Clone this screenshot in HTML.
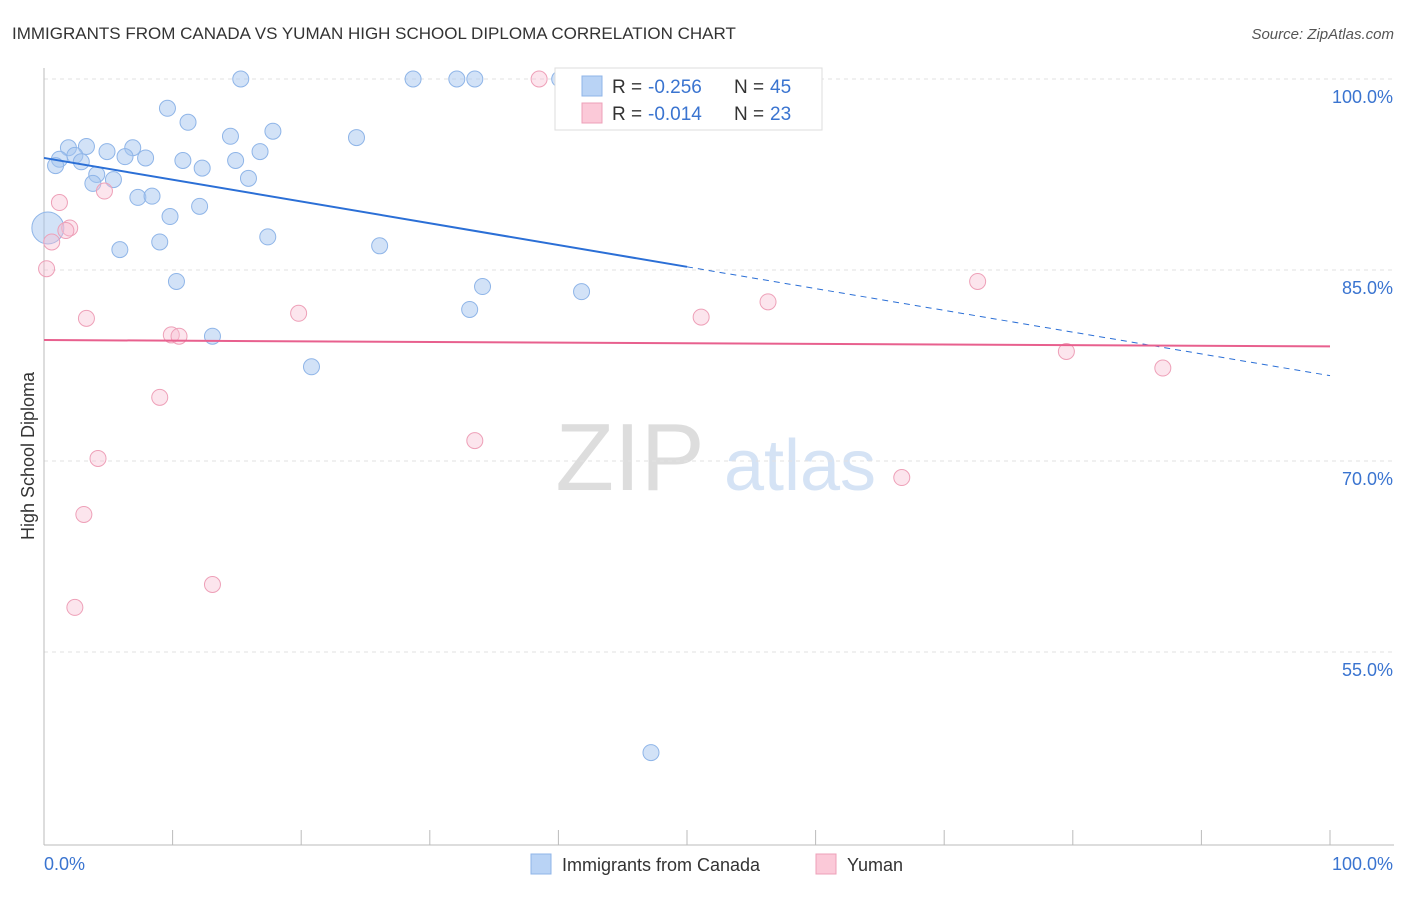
<!DOCTYPE html>
<html><head><meta charset="utf-8"><style>
body{margin:0;background:#fff;font-family:"Liberation Sans",sans-serif;}
svg text{font-family:"Liberation Sans",sans-serif;}
</style></head><body>
<svg id="chart" width="1406" height="892">
<text x="12" y="39" font-size="17" fill="#333">IMMIGRANTS FROM CANADA VS YUMAN HIGH SCHOOL DIPLOMA CORRELATION CHART</text>
<text x="1394" y="39" font-size="15" fill="#555" font-style="italic" text-anchor="end">Source: ZipAtlas.com</text>
<text x="630" y="490" font-size="96" fill="#ddd" font-family="Liberation Serif" text-anchor="middle">ZIP</text>
<text x="800" y="490" font-size="72" fill="#d5e3f5" text-anchor="middle">atlas</text>
<text transform="translate(34,456) rotate(-90)" font-size="18" fill="#333" text-anchor="middle">High School Diploma</text>
<g id="grid"></g><g id="marks"></g>
<g>
<rect x="555" y="68" width="267" height="62" fill="#fff" stroke="#ddd"/>
<rect x="582" y="76" width="20" height="20" fill="#b9d3f5" stroke="#8fb5e8"/>
<rect x="582" y="103" width="20" height="20" fill="#fbc9d8" stroke="#eea0b8"/>
<text x="612" y="93" font-size="19" fill="#333">R =</text>
<text x="648" y="93" font-size="19" fill="#3a74d0">-0.256</text>
<text x="734" y="93" font-size="19" fill="#333">N =</text>
<text x="770" y="93" font-size="19" fill="#3a74d0">45</text>
<text x="612" y="120" font-size="19" fill="#333">R =</text>
<text x="648" y="120" font-size="19" fill="#3a74d0">-0.014</text>
<text x="734" y="120" font-size="19" fill="#333">N =</text>
<text x="770" y="120" font-size="19" fill="#3a74d0">23</text>
</g>
<g>
<rect x="531" y="854" width="20" height="20" fill="#b9d3f5" stroke="#8fb5e8"/>
<text x="562" y="871" font-size="18" fill="#333">Immigrants from Canada</text>
<rect x="816" y="854" width="20" height="20" fill="#fbc9d8" stroke="#eea0b8"/>
<text x="847" y="871" font-size="18" fill="#333">Yuman</text>
</g>
</svg>
<script>
const blueX=[15.3,28.7,32.1,33.5,40.1,50.0,9.6,11.2,17.8,14.5,24.3,1.9,3.3,6.9,4.9,16.8,2.4,6.3,7.9,10.8,14.9,1.2,0.9,2.9,12.3,4.1,5.4,15.9,3.8,7.3,8.4,12.1,9.8,0.3,17.4,9.0,26.1,5.9,10.3,34.1,41.8,33.1,13.1,20.8,47.2];
const blueY=[100,100,100,100,100,100,97.7,96.6,95.9,95.5,95.4,94.6,94.7,94.6,94.3,94.3,94.0,93.9,93.8,93.6,93.6,93.7,93.2,93.5,93.0,92.5,92.1,92.2,91.8,90.7,90.8,90.0,89.2,88.3,87.6,87.2,86.9,86.6,84.1,83.7,83.3,81.9,79.8,77.4,47.1];
const pinkX=[38.5,1.2,4.7,2.0,1.7,0.6,0.2,72.6,56.3,19.8,3.3,51.1,9.9,10.5,79.5,87.0,9.0,33.5,4.2,66.7,3.1,13.1,2.4];
const pinkY=[100,90.3,91.2,88.3,88.1,87.2,85.1,84.1,82.5,81.6,81.2,81.3,79.9,79.8,78.6,77.3,75.0,71.6,70.2,68.7,65.8,60.3,58.5];
const blueTrend=[93.8,76.7];
const pinkTrend=[79.5,79.0];
const yTicks=[100,85,70,55];
const xTickVals=[0,10,20,30,40,50,60,70,80,90,100];
const X=v=>44+v*12.86, Y=v=>79+(100-v)*12.733;
const NS="http://www.w3.org/2000/svg";
function mk(tag,attrs,parent){const e=document.createElementNS(NS,tag);for(const k in attrs)e.setAttribute(k,attrs[k]);parent.appendChild(e);return e;}
const grid=document.getElementById('grid'),marks=document.getElementById('marks');
yTicks.forEach(t=>{
 const l=mk('line',{x1:44,x2:1394,y1:Y(t),y2:Y(t),stroke:'#e2e2e2','stroke-dasharray':'4,4'},grid);
 
 
 const tx=mk('text',{x:1393,y:Y(t)+24,'font-size':18,fill:'#3a74d0','text-anchor':'end'},grid);tx.textContent=t.toFixed(1)+'%';
 
 
});
const ax=mk('line',{x1:44,x2:44,y1:68,y2:845,stroke:'#bbb'},grid);


const bx=mk('line',{x1:44,x2:1394,y1:845,y2:845,stroke:'#bbb'},grid);


xTickVals.forEach(t=>{const l=mk('line',{x1:X(t),x2:X(t),y1:830,y2:845,stroke:'#bbb'},grid);
 
 });
const xl0=mk('text',{x:44,y:870,'font-size':18,fill:'#3a74d0'},grid);xl0.textContent='0.0%';


const xl1=mk('text',{x:1393,y:870,'font-size':18,fill:'#3a74d0','text-anchor':'end'},grid);xl1.textContent='100.0%';


blueX.forEach((x,i)=>{const big=(i===33);const c=mk('circle',{cx:X(x),cy:Y(blueY[i]),r:big?16:8,fill:'rgba(165,198,240,0.5)',stroke:'#8fb5e8','stroke-width':1},marks);
 
 });
pinkX.forEach((x,i)=>{const c=mk('circle',{cx:X(x),cy:Y(pinkY[i]),r:8,fill:'rgba(248,190,210,0.4)',stroke:'#eea0b8','stroke-width':1},marks);
 
 });
const bm=blueTrend[0]+(blueTrend[1]-blueTrend[0])*0.5;
const t1=mk('line',{x1:X(0),y1:Y(blueTrend[0]),x2:X(50),y2:Y(bm),stroke:'#2b6fd6','stroke-width':2},marks);


const t2=mk('line',{x1:X(50),y1:Y(bm),x2:X(100),y2:Y(blueTrend[1]),stroke:'#2b6fd6','stroke-width':1,'stroke-dasharray':'6,5'},marks);


const t3=mk('line',{x1:X(0),y1:Y(pinkTrend[0]),x2:X(100),y2:Y(pinkTrend[1]),stroke:'#e8608e','stroke-width':2},marks);


</script>
</body></html>
